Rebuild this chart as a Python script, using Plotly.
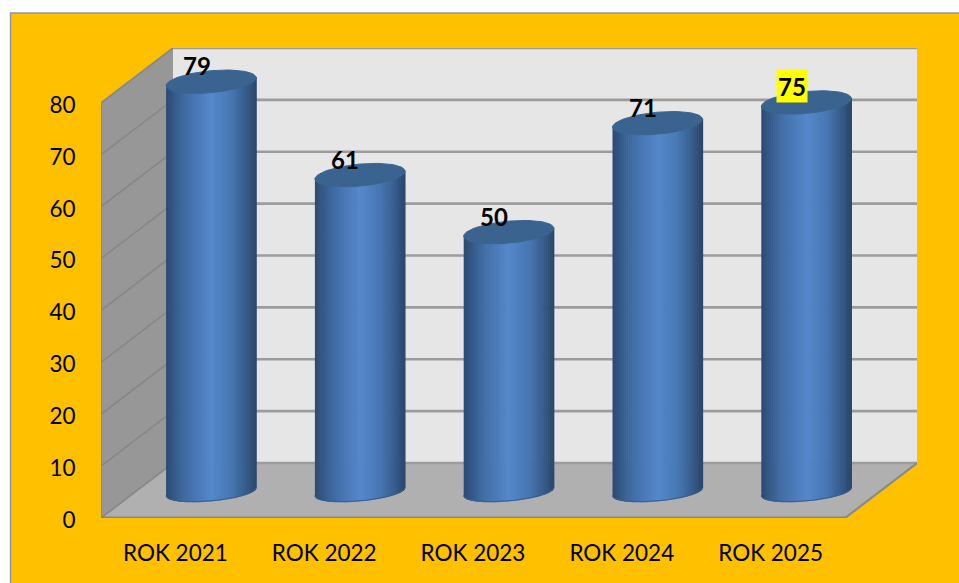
import numpy as np
import plotly.graph_objects as go

categories = ["ROK 2021", "ROK 2022", "ROK 2023", "ROK 2024", "ROK 2025"]
values = [79, 61, 50, 71, 75]
y_ticks = [0, 10, 20, 30, 40, 50, 60, 70, 80]
label_backgrounds = [None, None, None, None, "#FFFF00"]

W, H = 959, 583
PX_L, PX_R, PX_T, PX_B = 101, 917, 48, 518   # plot box in pixels
PX_PER_X = 148.8
PX_PER_Y = 5.19
DEPTH_X = 72 / PX_PER_X
DEPTH_Y = 55 / PX_PER_Y
YMAX = y_ticks[-1]
N = len(categories)

RADIUS = 45 / PX_PER_X
MINOR = 11 / PX_PER_Y
MINOR_BOTTOM = 9.3 / PX_PER_Y
TILT = 4 / PX_PER_Y

stops = [(0.0, (44, 74, 112)), (0.08, (52, 88, 135)), (0.22, (66, 110, 165)),
         (0.5, (85, 136, 204)), (0.72, (72, 120, 180)), (0.88, (56, 94, 142)),
         (1.0, (42, 70, 106))]


def shade(t):
    xs = [s[0] for s in stops]
    return "rgb(%d,%d,%d)" % tuple(np.interp(t, xs, [s[1][i] for s in stops]) for i in range(3))


fig = go.Figure()


def poly(xs, ys, fill, line=None, width=0):
    fig.add_trace(go.Scatter(x=xs, y=ys, mode="lines", fill="toself", fillcolor=fill,
                             line=dict(color=line or fill, width=width), hoverinfo="skip",
                             showlegend=False, cliponaxis=False))


def seg(xs, ys, color, width):
    fig.add_trace(go.Scatter(x=xs, y=ys, mode="lines", line=dict(color=color, width=width),
                             hoverinfo="skip", showlegend=False, cliponaxis=False))


# walls
poly([0, DEPTH_X, DEPTH_X, 0], [0, DEPTH_Y, YMAX + DEPTH_Y, YMAX], "#979797")
poly([0, N, N + DEPTH_X, DEPTH_X], [0, 0, DEPTH_Y, DEPTH_Y], "#B0B0B0")
poly([DEPTH_X, N + DEPTH_X, N + DEPTH_X, DEPTH_X],
     [DEPTH_Y, DEPTH_Y, YMAX + DEPTH_Y, YMAX + DEPTH_Y], "#E6E6E6")

# gridlines
for t in y_ticks:
    seg([DEPTH_X, N + DEPTH_X], [t + DEPTH_Y, t + DEPTH_Y], "#9C9C9C", 2.6)
    seg([0, DEPTH_X], [t, t + DEPTH_Y], "#888888", 1.8)
seg([0, N], [0, 0], "#868686", 3)
seg([N, N + DEPTH_X], [0, DEPTH_Y], "#8A8A8A", 2.2)
seg([0, 0], [0, YMAX], "#868686", 1.6)

# cylinders
centers = np.arange(N) + 0.5 + DEPTH_X / 2 - 0.002
base = DEPTH_Y / 2 - 0.2
SLICES = 46
edges = np.linspace(-1, 1, SLICES + 1)
for k in range(SLICES):
    xs, ys = [], []
    u = np.linspace(edges[k], edges[k + 1], 4)
    for c, v in zip(centers, values):
        lower = base - (MINOR_BOTTOM * np.sqrt(1 - u ** 2) - TILT * u)
        top = base + v + TILT * u
        xs += list(c + RADIUS * u) + list(c + RADIUS * u[::-1]) + [None]
        ys += list(lower) + list(top[::-1]) + [None]
    poly(xs, ys, shade((k + 0.5) / SLICES), width=1.3)

theta = np.linspace(0, 2 * np.pi, 90)
for c, v in zip(centers, values):
    poly(c + RADIUS * np.cos(theta),
         base + v - (MINOR * np.sin(theta) - TILT * np.cos(theta)),
         "#3A638F", "#3B6591", 1)
    edge = np.linspace(0, np.pi, 40)
    seg(c + RADIUS * np.cos(edge), base - (MINOR_BOTTOM * np.sin(edge) - TILT * np.cos(edge)), "#36608F", 1)

# data labels
for c, v, bg in zip(centers, values, label_backgrounds):
    fig.add_annotation(x=c, y=base + v, text=str(v), showarrow=False, xshift=-14.5, yshift=16.5,
                       font=dict(family="Lato", size=24, color="black", weight="bold"),
                       bgcolor=bg, borderpad=1, height=30)

# gold panel
fig.add_shape(type="rect", xref="paper", yref="paper", x0=10.5 / W, x1=1.01, y0=-0.01,
              y1=(H - 13) / H, fillcolor="#FFC000", line=dict(color="#8C97A8", width=1.5),
              layer="below")

fig.update_layout(
    template="none",
    width=W, height=H, margin=dict(l=0, r=0, t=0, b=0, autoexpand=False), paper_bgcolor="white",
    plot_bgcolor="rgba(0,0,0,0)", showlegend=False,
    xaxis=dict(automargin=False, domain=[PX_L / W, PX_R / W], range=[0, N + DEPTH_X], showgrid=False, zeroline=False,
               showline=False, tickmode="array", tickvals=list(np.arange(N) + 0.5), ticktext=categories,
               ticks="outside", ticklen=15, tickcolor="rgba(0,0,0,0)", tickangle=0,
               tickfont=dict(family="Lato", size=22.5, color="black")),
    yaxis=dict(automargin=False, domain=[(H - PX_B) / H, (H - PX_T) / H], range=[0, YMAX + DEPTH_Y], showgrid=False,
               zeroline=False, showline=False, tickmode="array", tickvals=y_ticks,
               ticks="outside", ticklen=20, tickcolor="rgba(0,0,0,0)", ticklabelshift=2,
               tickfont=dict(family="Lato", size=22.5, color="black")),
)

fig.write_html("out.html", config=dict(displayModeBar=False),
               post_script="document.body.style.margin='0';document.body.style.overflow='hidden';")
